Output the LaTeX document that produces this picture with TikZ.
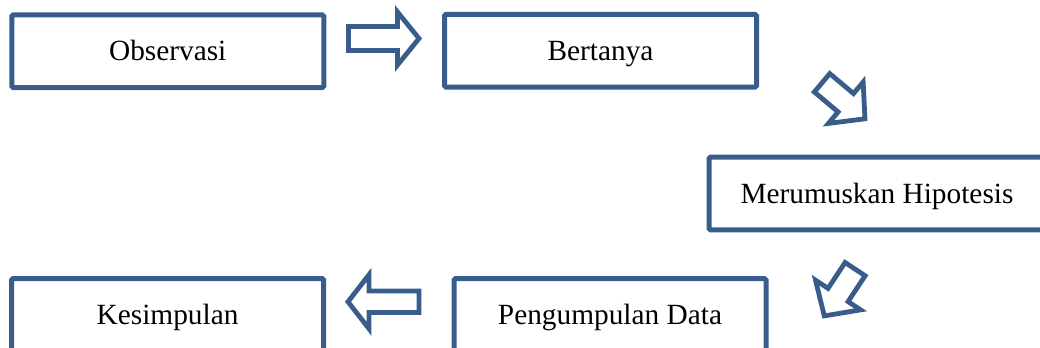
\documentclass[tikz,border=0pt]{standalone}
\usepackage{fontspec}
\setmainfont{Liberation Serif}
\definecolor{outline}{HTML}{385D8A}
\tikzset{
  stepbox/.style={draw=outline, line width=3.75pt, rounded corners=1pt,
    minimum width=234pt, minimum height=54.4pt, inner sep=0pt,
    font=\fontsize{22}{26}\selectfont, text height=14.6pt, text depth=0pt},
  blockarrow/.style={draw=outline, line width=3.6pt, line join=miter}
}
\newcommand{\barrowpath}[7]{%
  \draw[blockarrow, shift={(#1,#2)}, rotate=#3]
    ({-#4/2},{-#6}) -- ({#4/2-#5},{-#6}) -- ({#4/2-#5},{-#7}) -- ({#4/2},0)
    -- ({#4/2-#5},{#7}) -- ({#4/2-#5},{#6}) -- ({-#4/2},{#6}) -- cycle;}
\begin{document}
\begin{tikzpicture}[x=0.75pt, y=-0.75pt]
  \clip (0,0) rectangle (1040,347);
  \node[stepbox] (obs) at (167.75,51.25) {Observasi};
  \node[stepbox] (ber) at (600.5,50.75) {Bertanya};
  \node[stepbox, minimum width=252pt] (mer) at (877,193.5) {Merumuskan Hipotesis};
  \node[stepbox] (kes) at (167.6,315) {Kesimpulan};
  \node[stepbox] (pen) at (610,315) {Pengumpulan Data};
  % block arrows
  \barrowpath{383.75}{38.5}{0}{70.5}{21.5}{12}{26.5}
  \barrowpath{843.5}{100.8}{-40}{56}{25}{12}{27}
  \barrowpath{839.7}{292.5}{-123.4}{56}{25}{12}{27}
  \barrowpath{383.5}{301.75}{180}{71}{21}{10.75}{27}
\end{tikzpicture}
\end{document}
